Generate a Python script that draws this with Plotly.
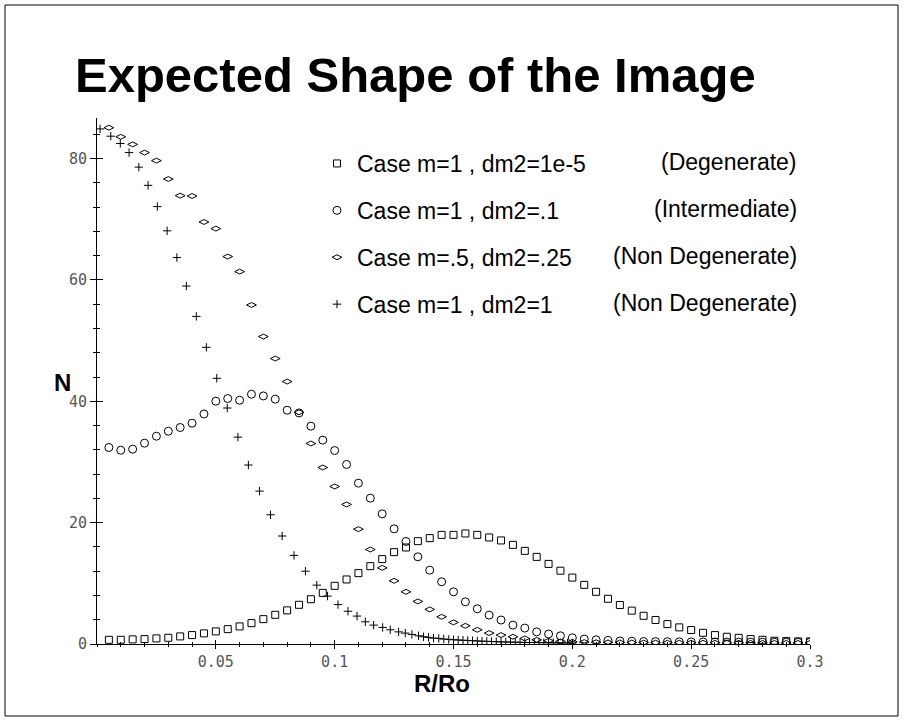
import plotly.graph_objects as go

# ---------------- data ----------------
x_grid = [round(0.005 * k, 3) for k in range(1, 61)]

n_degenerate = [0.69, 0.69, 0.76, 0.81, 0.92, 1.02, 1.25, 1.47, 1.75, 2.08,
                2.45, 2.90, 3.44, 4.10, 4.81, 5.54, 6.46, 7.38, 8.43, 9.59,
                10.64, 11.68, 12.83, 13.99, 15.14, 15.91, 16.95, 17.45, 17.99, 17.99,
                18.22, 17.99, 17.56, 17.07, 16.34, 15.35, 14.36, 13.20, 12.08, 10.95,
                9.75, 8.60, 7.45, 6.43, 5.50, 4.65, 3.96, 3.28, 2.74, 2.30,
                1.85, 1.47, 1.19, 1.02, 0.81, 0.69, 0.53, 0.48, 0.43, 0.43]

n_intermediate = [32.39, 31.94, 32.11, 33.10, 34.25, 35.07, 35.68, 36.39, 37.92, 40.02,
                  40.46, 40.18, 41.17, 40.89, 40.35, 38.53, 38.09, 35.90, 33.60, 31.89,
                  29.59, 26.51, 24.04, 21.45, 18.98, 16.90, 14.37, 12.17, 10.25, 8.60,
                  6.95, 5.80, 4.76, 3.95, 3.11, 2.62, 2.00, 1.65, 1.35, 1.02,
                  0.81, 0.69, 0.60, 0.50, 0.45, 0.42, 0.40, 0.38, 0.36, 0.35,
                  0.34, 0.33, 0.32, 0.31, 0.30, 0.30, 0.29, 0.29, 0.28, 0.28]

n_nondeg_half = [85.10, 83.60, 82.35, 81.00, 79.67, 76.64, 73.90, 73.84, 69.56, 68.47,
                 63.86, 61.38, 55.88, 50.67, 47.05, 43.26, 38.20, 33.05, 29.09, 25.96,
                 23.00, 18.93, 15.58, 12.55, 10.41, 8.60, 7.02, 5.70, 4.48, 3.56,
                 3.00, 2.34, 1.80, 1.47, 1.19, 0.92, 0.69, 0.53, 0.42, 0.36,
                 0.32, 0.29, 0.27, 0.25, 0.24, 0.23, 0.22, 0.21, 0.21, 0.20,
                 0.20, 0.20, 0.19, 0.19, 0.19, 0.18, 0.18, 0.18, 0.18, 0.18]

x_nondeg_one = [0.0013, 0.0058, 0.0098, 0.0135, 0.0176, 0.0215, 0.0254, 0.0295, 0.0336, 0.0376,
                0.0418, 0.0460, 0.0504, 0.0548, 0.0593, 0.0637, 0.0684, 0.0730, 0.0779, 0.0829,
                0.0877, 0.0925, 0.0970, 0.1014, 0.1056, 0.1094, 0.1129, 0.1164, 0.1202, 0.1234,
                0.1269, 0.1297, 0.1325, 0.1353, 0.1374, 0.1395, 0.1416, 0.1438, 0.1459, 0.1480,
                0.1500, 0.1520, 0.1540, 0.1560, 0.1580, 0.1600, 0.1620, 0.1640, 0.1660, 0.1680,
                0.1700, 0.1720, 0.1740, 0.1760, 0.1780, 0.1800, 0.1820, 0.1840, 0.1860, 0.1880,
                0.1900, 0.1920, 0.1940, 0.1960, 0.1980, 0.2000]
n_nondeg_one = [84.9, 83.7, 82.5, 81.0, 78.6, 75.6, 72.1, 68.1, 63.7, 59.0,
                54.0, 48.9, 43.8, 38.9, 34.1, 29.5, 25.2, 21.3, 17.8, 14.6,
                12.0, 9.7, 7.9, 6.5, 5.4, 4.6, 3.66, 3.11, 2.73, 2.34,
                2.0, 1.8, 1.58, 1.35, 1.19, 1.09, 0.97, 0.92, 0.81, 0.76,
                0.70, 0.66, 0.62, 0.58, 0.54, 0.50, 0.47, 0.44, 0.41, 0.38,
                0.36, 0.34, 0.32, 0.30, 0.28, 0.26, 0.25, 0.24, 0.23, 0.22,
                0.21, 0.20, 0.19, 0.18, 0.17, 0.16]

legend_names = ["Case m=1 , dm2=1e-5", "Case m=1 , dm2=.1",
                "Case m=.5, dm2=.25", "Case m=1 , dm2=1"]
legend_notes = ["(Degenerate)", "(Intermediate)", "(Non Degenerate)", "(Non Degenerate)"]

x_ticks = [0.05, 0.1, 0.15, 0.2, 0.25, 0.3]
x_tick_text = ["0.05", "0.1", "0.15", "0.2", "0.25", "0.3"]
y_ticks = [0, 20, 40, 60, 80]

# ---------------- figure ----------------
W, H = 903, 721
L, R, T, B = 97, 93, 118, 77
pw, ph = W - L - R, H - T - B

def px_to_paper_x(px):
    return (px - L) / pw

def px_to_paper_y(py):
    return (H - B - py) / ph

fig = go.Figure()
line = dict(color="black", width=1)
fig.add_trace(go.Scatter(x=x_grid, y=n_degenerate, mode="markers", name=legend_names[0],
                         legendgroup="a",
                         marker=dict(symbol="square-open", size=7, color="black", line=line)))
fig.add_trace(go.Scatter(x=x_grid, y=n_intermediate, mode="markers", name=legend_names[1],
                         legendgroup="b",
                         marker=dict(symbol="circle-open", size=8, color="black", line=line)))
fig.add_trace(go.Scatter(x=x_grid, y=n_nondeg_half, mode="markers", name=legend_names[2],
                         legendgroup="c",
                         marker=dict(symbol="diamond-wide-open", size=7, color="black", line=line)))
fig.add_trace(go.Scatter(x=x_nondeg_one, y=n_nondeg_one, mode="markers", name=legend_names[3],
                         legendgroup="d",
                         marker=dict(symbol="cross-thin-open", size=6, color="black", line=line)))

tickfont = dict(family="DejaVu Sans Mono", size=15, color="#555555")
xr = [0, 0.3]
yr = [0, 86.7]

fig.update_layout(
    width=W, height=H,
    margin=dict(l=L, r=R, t=T, b=B),
    paper_bgcolor="white", plot_bgcolor="white",
    font=dict(family="Liberation Sans, Arial", color="black"),
    showlegend=True,
    legend=dict(x=px_to_paper_x(317), y=px_to_paper_y(142), xanchor="left", yanchor="top",
                font=dict(size=23, family="Liberation Sans, Arial", color="black"),
                tracegroupgap=14, bgcolor="rgba(0,0,0,0)"),
    xaxis=dict(range=xr, showgrid=False, zeroline=False, showline=True, linecolor="black",
               linewidth=1, ticks="outside", ticklen=4, tickwidth=1, tickcolor="black",
               tickvals=x_ticks, ticktext=x_tick_text, tickfont=tickfont,
               minor=dict(dtick=0.01, ticks="outside", ticklen=2, tickcolor="black", tickwidth=1),
               fixedrange=True),
    yaxis=dict(range=yr, showgrid=False, zeroline=False, showline=True, linecolor="black",
               linewidth=1, ticks="outside", ticklen=6, tickwidth=1, tickcolor="black",
               tickvals=y_ticks, tickfont=tickfont,
               minor=dict(dtick=4, ticks="outside", ticklen=3, tickcolor="black", tickwidth=1),
               fixedrange=True),
    xaxis2=dict(range=xr, overlaying="x", anchor="y", side="bottom", showgrid=False,
                zeroline=False, showline=False, ticks="inside", ticklen=4, tickwidth=1,
                tickcolor="black", tickvals=x_ticks, showticklabels=False, fixedrange=True,
                minor=dict(dtick=0.01, ticks="inside", ticklen=2, tickcolor="black", tickwidth=1)),
    yaxis2=dict(range=yr, overlaying="y", anchor="x", side="left", showgrid=False,
                zeroline=False, showline=False, ticks="inside", ticklen=6, tickwidth=1,
                tickcolor="black", tickvals=y_ticks, showticklabels=False, fixedrange=True,
                minor=dict(dtick=4, ticks="inside", ticklen=3, tickcolor="black", tickwidth=1)),
)

# invisible trace to make overlay axes render
fig.add_trace(go.Scatter(x=[None], y=[None], xaxis="x2", yaxis="y2", showlegend=False,
                         hoverinfo="skip"))

# title
fig.add_annotation(text="<b>Expected Shape of the Image</b>", xref="paper", yref="paper",
                   x=px_to_paper_x(415), y=px_to_paper_y(75), xanchor="center", yanchor="middle",
                   showarrow=False, font=dict(size=49, family="Liberation Sans, Arial", color="black"))
# axis titles
fig.add_annotation(text="<b>N</b>", xref="paper", yref="paper",
                   x=px_to_paper_x(62), y=px_to_paper_y(383), xanchor="center", yanchor="middle",
                   showarrow=False, font=dict(size=24, family="Liberation Sans, Arial", color="black"))
fig.add_annotation(text="<b>R/Ro</b>", xref="paper", yref="paper",
                   x=px_to_paper_x(442), y=px_to_paper_y(683), xanchor="center", yanchor="middle",
                   showarrow=False, font=dict(size=24, family="Liberation Sans, Arial", color="black"))
# legend notes
for i, note in enumerate(legend_notes):
    fig.add_annotation(text=note, xref="paper", yref="paper",
                       x=px_to_paper_x(799), y=px_to_paper_y(162 + 47 * i),
                       xanchor="right", yanchor="middle", showarrow=False,
                       font=dict(size=23, family="Liberation Sans, Arial", color="black"))

# outer frame
fig.add_shape(type="rect", xref="paper", yref="paper",
              x0=px_to_paper_x(5), x1=px_to_paper_x(898),
              y0=px_to_paper_y(716), y1=px_to_paper_y(5),
              line=dict(color="black", width=1), fillcolor="rgba(0,0,0,0)", layer="below")

fig.write_html("out.html", config={"displayModeBar": False},
               post_script="document.body.style.margin='0';document.body.style.padding='0';")
